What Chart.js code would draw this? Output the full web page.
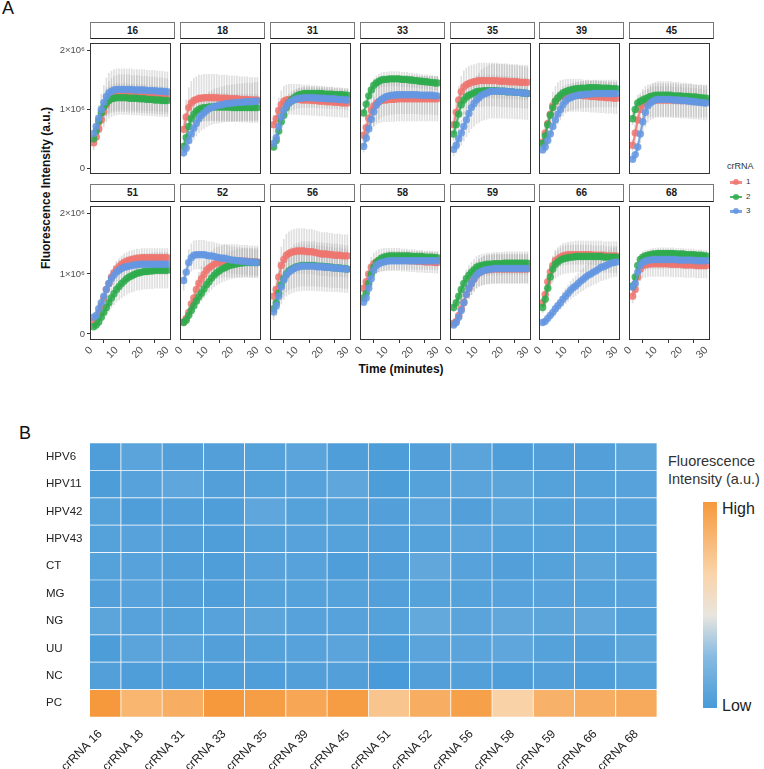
<!DOCTYPE html>
<html lang="en">
<head>
<meta charset="UTF-8">
<title>crRNA screening - fluorescence kinetics and specificity</title>
<script src="https://cdn.jsdelivr.net/npm/chart.js"></script>
<style>
    html, body { margin: 0; padding: 0; background: #fff; }
    #fig { position: relative; width: 764px; height: 769px; overflow: hidden;
           font-family: "Liberation Sans", Arial, Helvetica, sans-serif; color: #222; }
    #fig canvas { position: absolute; }
    .txt { position: absolute; white-space: nowrap; }
    .tag { position: absolute; font-size: 18px; color: #111; }
    .strip { position: absolute; box-sizing: border-box; width: 85px; border: 1px solid #777;
             border-bottom-color: #222; background: #fff; text-align: center;
             font-weight: bold; font-size: 10px; color: #1a1a1a; }
    .key { position: absolute; width: 12px; height: 8px; }
    .key .ln { position: absolute; left: 0; top: 3px; width: 12px; height: 2.5px; }
    .key .dt { position: absolute; left: 3px; top: 1px; width: 6px; height: 6px; border-radius: 50%; }
</style>
</head>
<body>
<div id="fig">
    <div class="tag" style="left:2px;top:-2px">A</div>
    <div class="tag" style="left:19px;top:423px">B</div>

    <!-- panel A axis titles -->
    <div class="txt" style="left:46px;top:188px;transform:translate(-50%,-50%) rotate(-90deg);font-weight:bold;font-size:12px;color:#111">Fluorescence Intensity (a.u.)</div>
    <div class="txt" style="left:401px;top:369px;transform:translate(-50%,-50%);font-weight:bold;font-size:12px;color:#111">Time (minutes)</div>

    <!-- panel A legend -->
    <div class="txt" style="left:727px;top:161px;font-size:9px;color:#333">crRNA</div>
    <div id="keys"></div>

    <!-- panel B legend -->
    <div class="txt" style="left:668px;top:452px;font-size:14.5px;line-height:18px;color:#333">Fluorescence<br>Intensity (a.u.)</div>
    <div id="colorbar" style="position:absolute;left:703px;top:502px;width:14px;height:206px"></div>
    <div class="txt" style="left:722px;top:500px;font-size:16px;color:#222">High</div>
    <div class="txt" style="left:722px;top:697px;font-size:16px;color:#222">Low</div>
</div>

<script>
    // ---------- Panel A: kinetics, values in units of 1e5 a.u. ----------
    const panelLabels = ['16', '18', '31', '33', '35', '39', '45', '51', '52', '56', '58', '59', '66', '68'];
    const crRNANames = ['1', '2', '3'];
    const timeMin = [1, 2, 3, 4, 5, 6, 7, 8, 9, 10, 11, 12, 13, 14, 15, 16, 17, 18, 19, 20, 21, 22, 23, 24, 25, 26, 27, 28, 29, 30];
    const xTicks = [0, 10, 20, 30];
    const yTicks = [0, 1000000, 2000000];
    const yTickLabels = ['0', '1×10⁶', '2×10⁶'];
    const valueUnit = 100000;

    // crRNA 1 (one row per panel)
    const crRNA1 = [
        [4.3,5.3,6.7,8.2,9.6,10.8,11.6,12.0,12.3,12.4,12.5,12.5,12.5,12.5,12.5,12.4,12.4,12.4,12.4,12.3,12.3,12.3,12.2,12.2,12.2,12.1,12.1,12.1,12.0,12.0],
        [6.6,8.7,10.3,11.1,11.5,11.7,11.9,11.9,12.0,12.0,12.0,12.0,12.0,12.0,11.9,11.9,11.9,11.9,11.8,11.8,11.8,11.8,11.7,11.7,11.7,11.7,11.6,11.6,11.6,11.6],
        [7.4,8.4,9.8,10.8,11.4,11.6,11.7,11.7,11.7,11.7,11.7,11.6,11.6,11.6,11.6,11.5,11.5,11.5,11.4,11.4,11.4,11.3,11.3,11.3,11.2,11.2,11.2,11.1,11.1,11.1],
        [5.6,6.9,8.5,9.9,10.6,11.0,11.3,11.5,11.6,11.6,11.7,11.7,11.7,11.8,11.8,11.8,11.8,11.8,11.8,11.8,11.8,11.8,11.8,11.8,11.8,11.8,11.8,11.8,11.8,11.8],
        [7.4,9.5,11.6,13.0,13.8,14.2,14.4,14.6,14.7,14.8,14.9,14.9,14.9,14.9,14.9,14.9,14.9,14.9,14.8,14.8,14.8,14.8,14.7,14.7,14.7,14.7,14.6,14.6,14.6,14.6],
        [4.4,6.0,7.6,9.2,10.6,11.4,11.9,12.2,12.3,12.4,12.4,12.4,12.4,12.4,12.4,12.4,12.3,12.3,12.3,12.2,12.2,12.2,12.1,12.1,12.1,12.0,12.0,12.0,11.9,11.9],
        [3.9,6.0,8.2,10.0,10.8,11.2,11.4,11.5,11.6,11.6,11.6,11.6,11.6,11.6,11.6,11.6,11.6,11.6,11.5,11.5,11.5,11.5,11.5,11.5,11.4,11.4,11.4,11.4,11.4,11.4],
        [2.1,2.6,3.6,4.7,6.0,7.4,8.4,9.5,10.2,10.8,11.2,11.6,11.9,12.1,12.3,12.4,12.5,12.6,12.6,12.7,12.7,12.7,12.7,12.7,12.7,12.7,12.7,12.7,12.7,12.7],
        [2.0,2.6,3.6,5.0,6.0,7.4,8.4,9.2,9.9,10.6,11.0,11.3,11.6,11.8,11.9,12.0,12.2,12.2,12.2,12.2,12.2,12.2,12.1,12.1,12.1,12.1,12.0,12.0,12.0,12.0],
        [6.3,7.4,9.5,11.4,12.4,13.1,13.4,13.6,13.7,13.8,13.8,13.8,13.8,13.7,13.7,13.7,13.6,13.5,13.4,13.3,13.3,13.3,13.2,13.2,13.1,13.1,13.1,13.0,13.0,13.0],
        [7.6,8.7,10.0,11.1,11.7,12.0,12.2,12.3,12.4,12.4,12.4,12.4,12.4,12.4,12.4,12.3,12.3,12.3,12.2,12.2,12.2,12.1,12.1,12.1,12.0,12.0,12.0,12.0,11.9,11.9],
        [1.8,2.1,3.1,4.2,5.3,6.6,7.6,8.4,9.1,9.8,10.2,10.4,10.6,10.7,10.7,10.8,10.8,10.8,10.8,10.8,10.8,10.8,10.8,10.8,10.8,10.8,10.8,10.8,10.8,10.8],
        [5.2,6.6,8.7,10.3,11.4,12.2,12.5,12.8,13.0,13.1,13.2,13.2,13.2,13.2,13.2,13.2,13.2,13.2,13.2,13.2,13.1,13.1,13.1,13.1,13.1,13.0,13.0,13.0,13.0,13.0],
        [6.3,7.4,9.5,10.8,11.4,11.5,11.6,11.7,11.7,11.7,11.7,11.7,11.7,11.7,11.7,11.6,11.6,11.6,11.6,11.6,11.5,11.5,11.5,11.5,11.5,11.4,11.4,11.4,11.4,11.4]
    ];
    // crRNA 2
    const crRNA2 = [
        [5.0,6.3,8.0,9.4,10.4,11.1,11.5,11.8,11.9,12.0,12.0,12.0,12.0,12.0,11.9,11.9,11.9,11.9,11.8,11.8,11.8,11.7,11.7,11.7,11.6,11.6,11.6,11.5,11.5,11.5],
        [3.7,5.2,7.1,8.4,9.2,9.7,10.0,10.2,10.3,10.3,10.4,10.4,10.4,10.4,10.4,10.4,10.4,10.4,10.4,10.3,10.3,10.3,10.3,10.3,10.3,10.3,10.3,10.3,10.3,10.3],
        [3.6,4.7,6.3,7.9,9.0,10.3,11.1,11.6,12.0,12.3,12.5,12.6,12.7,12.7,12.7,12.7,12.7,12.7,12.7,12.7,12.6,12.6,12.6,12.6,12.5,12.5,12.5,12.5,12.4,12.4],
        [9.4,10.9,12.3,13.3,14.1,14.5,14.8,15.0,15.1,15.1,15.2,15.2,15.2,15.2,15.2,15.1,15.1,15.1,15.0,15.0,14.9,14.9,14.8,14.8,14.7,14.7,14.6,14.6,14.5,14.5],
        [5.8,7.4,9.2,10.8,11.6,12.1,12.4,12.6,12.8,13.0,13.1,13.1,13.2,13.2,13.2,13.2,13.2,13.2,13.1,13.1,13.1,13.0,13.0,13.0,12.9,12.9,12.9,12.8,12.8,12.7],
        [4.2,5.5,7.4,9.0,10.3,11.4,12.0,12.4,12.8,13.0,13.2,13.3,13.4,13.5,13.5,13.6,13.6,13.6,13.7,13.7,13.7,13.7,13.7,13.6,13.6,13.6,13.6,13.5,13.5,13.5],
        [8.4,10.0,11.1,11.4,11.6,11.8,12.0,12.2,12.3,12.4,12.4,12.4,12.4,12.4,12.4,12.4,12.3,12.3,12.3,12.3,12.2,12.2,12.2,12.1,12.1,12.1,12.0,12.0,11.9,11.9],
        [1.2,1.5,2.0,2.8,3.6,4.4,5.2,6.0,6.7,7.4,7.9,8.4,8.8,9.2,9.5,9.7,9.9,10.1,10.2,10.3,10.4,10.4,10.5,10.5,10.6,10.6,10.6,10.6,10.6,10.6],
        [1.9,2.3,3.1,3.9,4.7,5.5,6.2,6.8,7.5,8.2,8.7,9.3,9.8,10.2,10.5,10.8,11.0,11.2,11.4,11.5,11.6,11.7,11.8,11.8,11.9,11.9,11.9,11.9,11.9,11.9],
        [4.2,5.2,6.8,8.2,9.2,10.0,10.5,10.8,11.0,11.2,11.3,11.4,11.4,11.4,11.4,11.4,11.4,11.3,11.3,11.3,11.2,11.2,11.1,11.1,11.0,11.0,11.0,10.9,10.9,10.8],
        [6.0,6.8,8.4,10.0,11.1,11.9,12.3,12.6,12.8,12.9,13.0,13.0,13.0,13.0,13.0,13.0,13.0,13.0,13.0,12.9,12.9,12.9,12.9,12.9,12.8,12.8,12.8,12.8,12.7,12.7],
        [4.4,5.2,6.3,7.4,8.4,9.2,9.8,10.3,10.7,11.1,11.3,11.4,11.5,11.6,11.6,11.6,11.7,11.7,11.7,11.7,11.8,11.8,11.8,11.8,11.8,11.8,11.8,11.8,11.8,11.8],
        [4.4,5.8,7.6,9.5,10.8,11.6,12.0,12.3,12.5,12.6,12.7,12.8,12.8,12.9,12.9,12.9,12.9,12.9,12.9,12.9,12.9,12.9,12.9,12.9,12.8,12.8,12.8,12.8,12.8,12.8],
        [8.0,9.5,11.4,12.4,12.8,13.0,13.1,13.2,13.3,13.3,13.4,13.4,13.4,13.4,13.4,13.4,13.4,13.3,13.3,13.3,13.3,13.2,13.2,13.2,13.2,13.1,13.1,13.1,13.0,13.0]
    ];
    // crRNA 3
    const crRNA3 = [
        [5.9,7.1,8.5,10.0,11.2,12.2,12.8,13.1,13.3,13.4,13.4,13.4,13.4,13.4,13.4,13.4,13.3,13.3,13.3,13.3,13.3,13.2,13.2,13.2,13.2,13.1,13.1,13.1,13.0,13.0],
        [2.6,3.4,4.7,5.8,6.8,7.6,8.4,9.0,9.4,9.8,10.1,10.3,10.5,10.6,10.7,10.8,10.9,11.0,11.0,11.1,11.1,11.2,11.2,11.2,11.3,11.3,11.3,11.3,11.4,11.4],
        [4.2,5.2,7.1,8.7,9.8,10.6,11.1,11.4,11.6,11.8,11.9,11.9,12.0,12.0,12.0,12.0,12.0,11.9,11.9,11.9,11.9,11.8,11.8,11.8,11.8,11.7,11.7,11.7,11.6,11.6],
        [3.7,5.1,6.7,8.3,9.6,10.7,11.3,11.7,12.0,12.2,12.3,12.4,12.4,12.5,12.5,12.5,12.5,12.5,12.5,12.5,12.5,12.5,12.4,12.4,12.4,12.4,12.4,12.4,12.3,12.3],
        [3.2,3.9,5.0,6.0,7.1,8.2,9.3,10.3,11.0,11.6,12.0,12.4,12.6,12.8,13.0,13.1,13.1,13.1,13.1,13.1,13.1,13.0,13.0,13.0,12.9,12.9,12.9,12.8,12.8,12.7],
        [3.1,3.6,4.7,5.8,7.1,8.2,9.2,10.0,10.8,11.4,11.8,12.0,12.2,12.3,12.4,12.5,12.5,12.6,12.6,12.6,12.7,12.7,12.7,12.7,12.7,12.7,12.7,12.7,12.7,12.7],
        [1.5,2.3,3.6,5.8,7.9,9.5,10.6,11.1,11.4,11.6,11.7,11.7,11.7,11.7,11.7,11.7,11.6,11.6,11.6,11.5,11.5,11.5,11.4,11.4,11.3,11.3,11.2,11.2,11.1,11.1],
        [2.8,3.1,4.2,5.2,6.3,7.4,8.4,9.2,9.8,10.3,10.6,10.9,11.1,11.2,11.3,11.4,11.5,11.5,11.6,11.6,11.6,11.6,11.6,11.6,11.6,11.6,11.6,11.6,11.6,11.6],
        [8.9,10.3,11.9,12.7,13.1,13.2,13.2,13.2,13.2,13.1,13.0,13.0,12.9,12.8,12.7,12.6,12.6,12.5,12.4,12.3,12.3,12.2,12.2,12.1,12.1,12.0,12.0,12.0,11.9,11.9],
        [3.7,4.7,6.3,7.8,9.0,9.8,10.3,10.6,10.9,11.1,11.2,11.3,11.3,11.3,11.3,11.3,11.3,11.2,11.2,11.2,11.1,11.1,11.1,11.0,11.0,11.0,10.9,10.9,10.8,10.8],
        [5.3,6.0,7.6,9.2,10.6,11.4,11.7,11.9,12.0,12.1,12.2,12.2,12.2,12.2,12.2,12.2,12.2,12.2,12.2,12.2,12.2,12.2,12.2,12.2,12.2,12.2,12.2,12.2,12.2,12.2],
        [1.5,1.9,2.8,3.9,5.2,6.6,7.6,8.4,9.2,9.8,10.2,10.4,10.6,10.7,10.8,10.8,10.9,10.9,10.9,10.9,10.9,10.9,10.9,10.9,10.9,10.9,10.9,10.9,10.9,10.9],
        [1.9,2.1,2.6,3.1,3.6,4.2,4.7,5.2,5.8,6.3,6.8,7.3,7.7,8.0,8.4,8.8,9.1,9.5,9.8,10.0,10.3,10.5,10.8,11.1,11.2,11.4,11.6,11.8,11.9,12.0],
        [7.8,8.4,10.3,11.4,11.9,12.1,12.3,12.3,12.4,12.4,12.4,12.4,12.4,12.4,12.4,12.4,12.4,12.4,12.3,12.3,12.3,12.3,12.3,12.3,12.3,12.2,12.2,12.2,12.2,12.2]
    ];
    // relative SD (error bars) per panel, one list per crRNA
    const relSD1 = [0.27, 0.33, 0.22, 0.32, 0.20, 0.22, 0.24, 0.12, 0.22, 0.27, 0.15, 0.22, 0.12, 0.18];
    const relSD2 = [0.20, 0.22, 0.09, 0.08, 0.20, 0.08, 0.12, 0.28, 0.20, 0.30, 0.06, 0.16, 0.20, 0.07];
    const relSD3 = [0.26, 0.28, 0.14, 0.26, 0.35, 0.18, 0.26, 0.15, 0.18, 0.36, 0.12, 0.22, 0.20, 0.12];

    // ---------- Panel B: heatmap, scaled 0 (low) .. 1 (high) ----------
    const heatRows = ['HPV6', 'HPV11', 'HPV42', 'HPV43', 'CT', 'MG', 'NG', 'UU', 'NC', 'PC'];
    const heatCols = ['crRNA 16', 'crRNA 18', 'crRNA 31', 'crRNA 33', 'crRNA 35', 'crRNA 39', 'crRNA 45',
                      'crRNA 51', 'crRNA 52', 'crRNA 56', 'crRNA 58', 'crRNA 59', 'crRNA 66', 'crRNA 68'];
    const heatValues = [
        [0.03, 0.07, 0.04, 0.04, 0.05, 0.07, 0.03, 0.02, 0.04, 0.07, 0.03, 0.04, 0.04, 0.08],
        [0.02, 0.06, 0.09, 0.04, 0.05, 0.06, 0.09, 0.02, 0.05, 0.07, 0.08, 0.05, 0.05, 0.06],
        [0.05, 0.03, 0.04, 0.03, 0.09, 0.05, 0.05, 0.04, 0.07, 0.04, 0.08, 0.05, 0.06, 0.06],
        [0.05, 0.06, 0.04, 0.03, 0.05, 0.06, 0.05, 0.04, 0.05, 0.07, 0.05, 0.05, 0.05, 0.06],
        [0.05, 0.06, 0.04, 0.03, 0.06, 0.06, 0.03, 0.04, 0.10, 0.06, 0.04, 0.05, 0.08, 0.06],
        [0.04, 0.06, 0.04, 0.03, 0.05, 0.05, 0.05, 0.04, 0.05, 0.05, 0.06, 0.06, 0.05, 0.06],
        [0.08, 0.06, 0.05, 0.06, 0.08, 0.06, 0.06, 0.05, 0.11, 0.07, 0.10, 0.08, 0.10, 0.05],
        [0.02, 0.07, 0.07, 0.04, 0.05, 0.06, 0.07, 0.03, 0.07, 0.07, 0.09, 0.05, 0.04, 0.08],
        [0.04, 0.03, 0.03, 0.03, 0.03, 0.04, 0.04, 0.00, 0.04, 0.04, 0.03, 0.04, 0.03, 0.05],
        [1.00, 0.83, 0.88, 1.00, 0.97, 0.92, 0.98, 0.74, 0.88, 0.96, 0.66, 0.86, 0.88, 0.90]
    ];

    const seriesColors = ['rgba(238,118,112,0.85)', 'rgba(46,172,78,0.85)', 'rgba(100,150,226,0.85)'];
    const heatStops = [
        [0.00, [72, 154, 216]],
        [0.25, [135, 187, 226]],
        [0.45, [232, 229, 222]],
        [0.65, [250, 212, 170]],
        [1.00, [246, 153, 60]]
    ];

    Chart.defaults.font.family = '"Liberation Sans", Arial, Helvetica, sans-serif';
    const fig = document.getElementById('fig');

    function addCanvas(left, top, w, h) {
        const c = document.createElement('canvas');
        c.width = w; c.height = h;
        c.style.left = left + 'px'; c.style.top = top + 'px';
        c.style.width = w + 'px'; c.style.height = h + 'px';
        fig.appendChild(c);
        return c;
    }

    // frame around each facet
    const framePlugin = {
        id: 'frame',
        afterDraw(chart) {
            const { ctx, chartArea: a } = chart;
            ctx.save();
            ctx.strokeStyle = '#333';
            ctx.lineWidth = 1;
            ctx.strokeRect(a.left + 0.5, a.top + 0.5, a.right - a.left - 1, a.bottom - a.top - 1);
            ctx.restore();
        }
    };

    // facet grid layout
    const colLefts = [90, 180, 270, 360, 450, 539, 629];
    const panelW = 85;
    const yAxisW = 36;
    const rowPlotTop = [39, 202];
    const rowPlotH = [139, 138];
    const rowStripTop = [22, 184];
    const xAxisH = 28;

    function drawPanel(p) {
        const row = Math.floor(p / 7), col = p % 7;
        const showY = col === 0, showX = row === 1;
        const left = colLefts[col];

        const strip = document.createElement('div');
        strip.className = 'strip';
        strip.textContent = panelLabels[p];
        strip.style.left = left + 'px';
        strip.style.top = rowStripTop[row] + 'px';
        strip.style.height = (rowPlotTop[row] - rowStripTop[row]) + 'px';
        strip.style.lineHeight = (rowPlotTop[row] - rowStripTop[row] - 2) + 'px';
        fig.appendChild(strip);

        const canvas = addCanvas(left - yAxisW, rowPlotTop[row], yAxisW + panelW, rowPlotH[row] + (showX ? xAxisH : 0));
        const means = [crRNA1[p], crRNA2[p], crRNA3[p]];
        const sds = [relSD1[p], relSD2[p], relSD3[p]];
        const datasets = [];

        means.forEach((vals, s) => {
            datasets.push({
                type: 'line',
                label: crRNANames[s],
                data: timeMin.map((t, i) => ({ x: t, y: vals[i] * valueUnit })),
                borderColor: seriesColors[s],
                backgroundColor: seriesColors[s],
                borderWidth: 2,
                pointRadius: 3.7,
                pointBorderWidth: 0,
                tension: 0,
                order: 3 - s
            });
        });
        means.forEach((vals, s) => {
            datasets.push({
                type: 'bar',
                label: 'sd ' + crRNANames[s],
                data: timeMin.map((t, i) => ({
                    x: t,
                    y: [vals[i] * (1 - sds[s]) * valueUnit, vals[i] * (1 + sds[s]) * valueUnit]
                })),
                backgroundColor: 'rgba(170,170,170,0.38)',
                barThickness: 1,
                grouped: false,
                order: 10
            });
        });

        new Chart(canvas, {
            type: 'line',
            data: { datasets },
            plugins: [framePlugin],
            options: {
                responsive: false,
                animation: false,
                events: [],
                layout: { padding: 0 },
                plugins: { legend: { display: false }, tooltip: { enabled: false } },
                scales: {
                    x: {
                        type: 'linear', min: -0.45, max: 31.45, offset: false, display: showX,
                        border: { display: false },
                        grid: { display: true, drawOnChartArea: false, drawTicks: true, tickLength: 3, color: '#333' },
                        ticks: {
                            minRotation: 45, maxRotation: 45, padding: 1, color: '#4d4d4d',
                            font: { size: 10.5 }, callback: v => String(v)
                        },
                        afterBuildTicks: s => { s.ticks = xTicks.map(v => ({ value: v })); },
                        afterFit: s => {
                            s.height = showX ? xAxisH : 0;
                            s.paddingLeft = 0; s.paddingRight = 0;
                        }
                    },
                    y: {
                        type: 'linear', min: -100000, max: 2130000,
                        border: { display: false },
                        grid: { display: showY, drawOnChartArea: false, drawTicks: true, tickLength: 3, color: '#333' },
                        ticks: {
                            display: showY, padding: 2, color: '#4d4d4d', font: { size: 9.5 },
                            callback: v => yTickLabels[yTicks.indexOf(v)]
                        },
                        afterBuildTicks: s => { s.ticks = yTicks.map(v => ({ value: v })); },
                        afterFit: s => { s.width = yAxisW; s.paddingTop = 0; s.paddingBottom = 0; }
                    }
                }
            }
        });
    }

    panelLabels.forEach((_, p) => drawPanel(p));

    // crRNA legend keys
    const keys = document.getElementById('keys');
    crRNANames.forEach((name, s) => {
        const y = 178 + s * 14.5;
        const k = document.createElement('div');
        k.className = 'key';
        k.style.left = '730px'; k.style.top = y + 'px';
        k.innerHTML = '<div class="ln" style="background:' + seriesColors[s] + '"></div>' +
                      '<div class="dt" style="background:' + seriesColors[s] + '"></div>';
        keys.appendChild(k);
        const t = document.createElement('div');
        t.className = 'txt';
        t.style.cssText = 'left:746px;top:' + (y - 1) + 'px;font-size:8px;color:#333';
        t.textContent = name;
        keys.appendChild(t);
    });

    // ---------- Heatmap ----------
    function heatColor(v) {
        for (let i = 1; i < heatStops.length; i++) {
            const [v1, c1] = heatStops[i];
            const [v0, c0] = heatStops[i - 1];
            if (v <= v1) {
                const f = (v - v0) / (v1 - v0);
                const c = c0.map((a, k) => Math.round(a + (c1[k] - a) * f));
                return 'rgb(' + c.join(',') + ')';
            }
        }
        return 'rgb(' + heatStops[heatStops.length - 1][1].join(',') + ')';
    }

    document.getElementById('colorbar').style.background =
        'linear-gradient(to top, ' + heatStops.map(([v, c]) => 'rgb(' + c.join(',') + ') ' + (v * 100) + '%').join(', ') + ')';

    const heatLeft = 90, heatTop = 443, heatW = 567, heatH = 274;
    const heatYAxisW = 44, heatXAxisH = 52;
    const heatCanvas = addCanvas(heatLeft - heatYAxisW, heatTop, heatYAxisW + heatW, heatH + heatXAxisH);

    const heatDatasets = heatRows.map((name, r) => ({
        label: name,
        data: heatCols.map((_, c) => ({ x: c, y: 1 })),
        backgroundColor: heatValues[r].map(heatColor),
        borderColor: '#ffffff',
        borderWidth: 0.7,
        borderSkipped: false,
        categoryPercentage: 1,
        barPercentage: 1,
        stack: 'cells',
        clip: 0
    })).reverse();

    new Chart(heatCanvas, {
        type: 'bar',
        data: { datasets: heatDatasets },
        options: {
            responsive: false,
            animation: false,
            events: [],
            layout: { padding: 0 },
            plugins: { legend: { display: false }, tooltip: { enabled: false } },
            scales: {
                x: {
                    type: 'linear', min: -0.25, max: 13.5, offset: false, stacked: true,
                    border: { display: false },
                    grid: { display: false },
                    ticks: {
                        autoSkip: false, minRotation: 45, maxRotation: 45, padding: 2,
                        color: '#222', font: { size: 12 }, callback: v => heatCols[v]
                    },
                    afterBuildTicks: s => { s.ticks = heatCols.map((_, c) => ({ value: c })); },
                    afterFit: s => { s.height = heatXAxisH; s.paddingLeft = 0; s.paddingRight = 0; }
                },
                y: {
                    type: 'linear', min: 0, max: heatRows.length, stacked: true,
                    border: { display: false },
                    grid: { display: false },
                    ticks: {
                        crossAlign: 'far', color: '#222', font: { size: 11.5 },
                        callback: v => heatRows[Math.round(heatRows.length - 0.5 - v)]
                    },
                    afterBuildTicks: s => { s.ticks = heatRows.map((_, r) => ({ value: heatRows.length - 0.5 - r })); },
                    afterFit: s => { s.width = heatYAxisW; s.paddingTop = 0; s.paddingBottom = 0; }
                }
            }
        }
    });
</script>
</body>
</html>
